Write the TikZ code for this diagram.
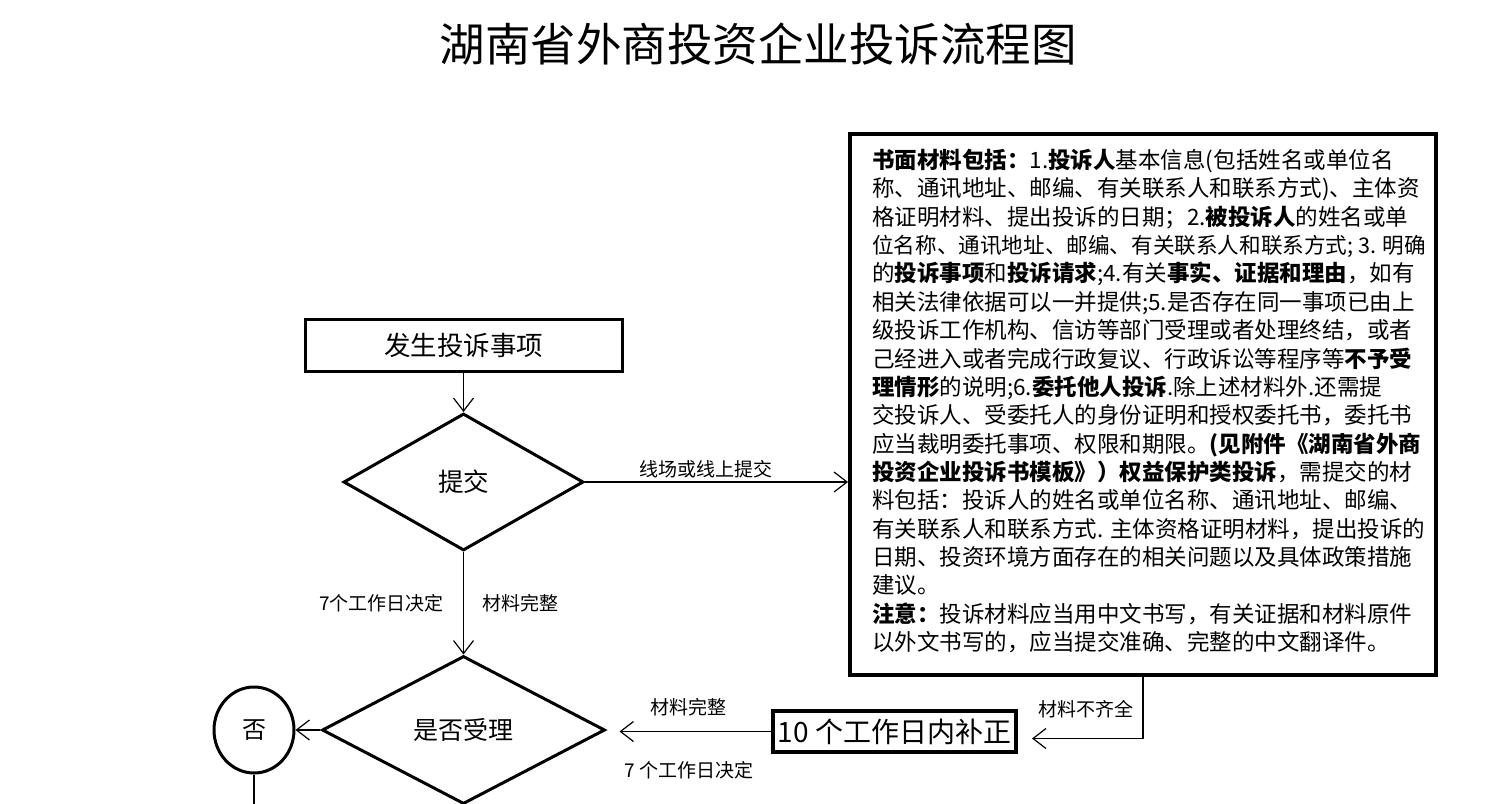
\documentclass[tikz,border=0pt]{standalone}
\usepackage{fontspec}
\setmainfont{Noto Sans CJK SC}
\usetikzlibrary{arrows.meta,shapes.geometric,positioning}

\begin{document}
\begin{tikzpicture}[x=1pt,y=-1pt,
  kuang/.style={draw,line width=3pt,inner sep=0pt},
  panduan/.style={draw,diamond,line width=3pt,inner sep=0pt},
  jiantou/.style={line width=1.2pt,-{Straight Barb[length=13pt,width=20pt]}},
  biaozhu/.style={font=\fontsize{19}{19}\selectfont}]
\useasboundingbox (0,0) rectangle (1506,803);

\node[font=\fontsize{45.5}{45.5}\selectfont] (biaoti) at (758,44) {湖南省外商投资企业投诉流程图};

\node[kuang,minimum width=317pt,minimum height=52pt,font=\fontsize{26.5}{26.5}\selectfont] (fasheng) at (463.5,345) {发生投诉事项};
\node[panduan,minimum width=240pt,minimum height=137pt,font=\fontsize{25.5}{25.5}\selectfont] (tijiao) at (463.5,482) {提交};
\node[panduan,minimum width=283pt,minimum height=148pt,font=\fontsize{25}{25}\selectfont] (shouli) at (463.5,730) {是否受理};
\node[kuang,ellipse,minimum width=80pt,minimum height=86pt,font=\fontsize{24}{24}\selectfont] (fou) at (254,730) {否};
\node[kuang,line width=4pt,minimum width=243pt,minimum height=41pt,font=\fontsize{28}{28}\selectfont] (buzheng) at (894.5,731.5) {10 个工作日内补正};
\coordinate (fouxia) at (254,830);

\node[kuang,line width=4pt,minimum width=586pt,minimum height=541pt] (cailiao) at (1143,404.5) {};
\node[anchor=north west,align=left,inner sep=0pt,font=\fontsize{22.5}{28.35}\selectfont] (cailiaowen) at (872,149) {%
\textbf{书面材料包括：}1.\textbf{投诉人}基本信息(包括姓名或单位名\\
称、通讯地址、邮编、有关联系人和联系方式)、主体资\\
格证明材料、提出投诉的日期；2.\textbf{被投诉人}的姓名或单\\
{\fontsize{21.6}{28.35}\selectfont 位名称、通讯地址、邮编、有关联系人和联系方式; 3. 明确}\\
的\textbf{投诉事项}和\textbf{投诉请求};4.有关\textbf{事实、证据和理由}，如有\\
相关法律依据可以一并提供;5.是否存在同一事项已由上\\
级投诉工作机构、信访等部门受理或者处理终结，或者\\
己经进入或者完成行政复议、行政诉讼等程序等\textbf{不予受}\\
\textbf{理情形}的说明;6.\textbf{委托他人投诉}.除上述材料外.还需提\\
交投诉人、受委托人的身份证明和授权委托书，委托书\\
应当裁明委托事项、权限和期限。\textbf{(见附件《湖南省外商}\\
\textbf{投资企业投诉书模板》）权益保护类投诉}，需提交的材\\
料包括：投诉人的姓名或单位名称、通讯地址、邮编、\\
有关联系人和联系方式. 主体资格证明材料，提出投诉的\\
日期、投资环境方面存在的相关问题以及具体政策措施\\
建议。\\
\textbf{注意：}投诉材料应当用中文书写，有关证据和材料原件\\
以外文书写的，应当提交准确、完整的中文翻译件。};

\draw[jiantou] (fasheng) -- (tijiao);
\draw[jiantou] (tijiao.east) -- (tijiao.east -| cailiao.west)
  node[biaozhu,above,pos=0.46] {线场或线上提交};
\draw[jiantou] (tijiao) -- (shouli)
  node[biaozhu,left=16pt,pos=0.5] {7个工作日决定}
  node[biaozhu,right=15pt,pos=0.5] {材料完整};
\draw[jiantou] (shouli) -- (fou);
\draw[line width=1.2pt] (fou) -- (fouxia);
\draw[jiantou,shorten >=13pt] (buzheng.west) -- (buzheng.west -| shouli.east)
  node[biaozhu,above=12pt,pos=0.5] {材料完整}
  node[biaozhu,below=26pt,pos=0.5] {7 个工作日决定};
\draw[jiantou,shorten >=14pt] (cailiao.south) |- ([yshift=-7pt]buzheng.east)
  node[biaozhu,left=6pt,pos=0.26] {材料不齐全};
\end{tikzpicture}
\end{document}
